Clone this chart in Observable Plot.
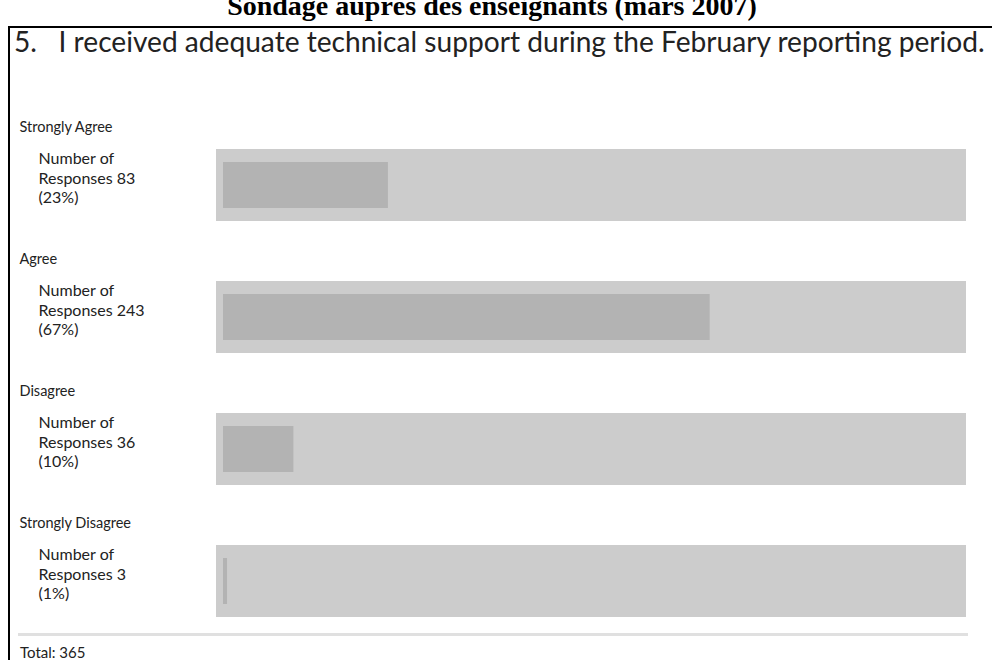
<!DOCTYPE html>
<html>
<head>
<meta charset="utf-8">
<script src="https://cdn.jsdelivr.net/npm/d3@7"></script>
<script src="https://cdn.jsdelivr.net/npm/@observablehq/plot@0.6"></script>
<style>
  html, body { margin: 0; padding: 0; background: #fff; }
  body { width: 992px; height: 660px; overflow: hidden; position: relative; }
  .line { position: absolute; white-space: pre; }
  #title { font: bold 24px "Liberation Serif", serif; color: #000; }
  #box { position: absolute; left: 8px; top: 26px; width: 1100px; height: 700px;
    border-left: 2px solid #000; border-top: 2px solid #000; }
  #question { font: 22px Lato, sans-serif; color: #222; }
  #chart { position: absolute; left: 0; top: 100px; }
  #sep { position: absolute; left: 18px; top: 633px; width: 950px; height: 3px; background: #e0e0e0; }
  #total { font: 15px Lato, sans-serif; color: #222; }
</style>
</head>
<body>
<span id="title" class="line"></span>
<div id="box"></div>
<span id="question" class="line">5.   I received adequate technical support during the February reporting period.</span>
<div id="chart"></div>
<div id="sep"></div>
<span id="total" class="line"></span>
<script>
// ---- data ----
const categories = ["Strongly Agree", "Agree", "Disagree", "Strongly Disagree"];
const responses = [83, 243, 36, 3];
const percents = [23, 67, 10, 1];
const totalResponses = 365;
const titleText = "Sondage auprès des enseignants (mars 2007)";

const rows = categories.map((c, i) => ({
  category: c,
  count: responses[i],
  pct: percents[i],
  total: totalResponses,
  label: `Number of\nResponses ${responses[i]}\n(${percents[i]}%)`
}));

document.getElementById("title").textContent = titleText;
document.getElementById("total").textContent = `Total: ${totalResponses}`;

// place a text line: fit to a target width (optional), set its left edge and baseline
function place(id, left, baseline, targetWidth, ascentRatio, contentRatio, center) {
  const el = document.getElementById(id);
  if (targetWidth) {
    const w = el.getBoundingClientRect().width;
    const fs = parseFloat(getComputedStyle(el).fontSize);
    el.style.fontSize = (fs * targetWidth / w) + "px";
  }
  const F = parseFloat(getComputedStyle(el).fontSize);
  el.style.lineHeight = F + "px";
  const off = (F - contentRatio * F) / 2 + ascentRatio * F;
  el.style.top = (baseline - off) + "px";
  if (center != null) {
    const w = el.getBoundingClientRect().width;
    el.style.left = (center - w / 2) + "px";
  } else el.style.left = left + "px";
}
place("title", 0, 15, 530, 0.891, 1.107, 492);
place("question", 14, 52, 971, 0.987, 1.2);
place("total", 20, 658, null, 0.987, 1.2);

const chart = Plot.plot({
  width: 992,
  height: 530,
  marginLeft: 0, marginRight: 0, marginTop: 0, marginBottom: 0,
  style: { fontFamily: "Lato, sans-serif", background: "transparent" },
  x: { domain: [0, totalResponses], range: [221, 955], axis: null },
  y: { domain: categories, range: [48, 519], paddingInner: 0.451, paddingOuter: 0, axis: null },
  marks: [
    Plot.barX(rows, { y: "category", x1: 0, x2: "total", fill: "#cccccc", insetLeft: -5, insetRight: -11 }),
    Plot.barX(rows, { y: "category", x1: 0, x2: "count", fill: "#b3b3b3", insetLeft: 2, insetTop: 13, insetBottom: 13 }),
    Plot.text(rows, { y: "category", text: "category", frameAnchor: "left", dx: 19, dy: -58,
      textAnchor: "start", lineAnchor: "middle", fontSize: 14.5, fill: "#222" }),
    Plot.text(rows, { y: "category", text: "label", frameAnchor: "left", dx: 38, dy: -8,
      textAnchor: "start", lineAnchor: "middle", fontSize: 16, lineHeight: 1.2, fill: "#222" })
  ]
});
document.getElementById("chart").appendChild(chart);
</script>
</body>
</html>
